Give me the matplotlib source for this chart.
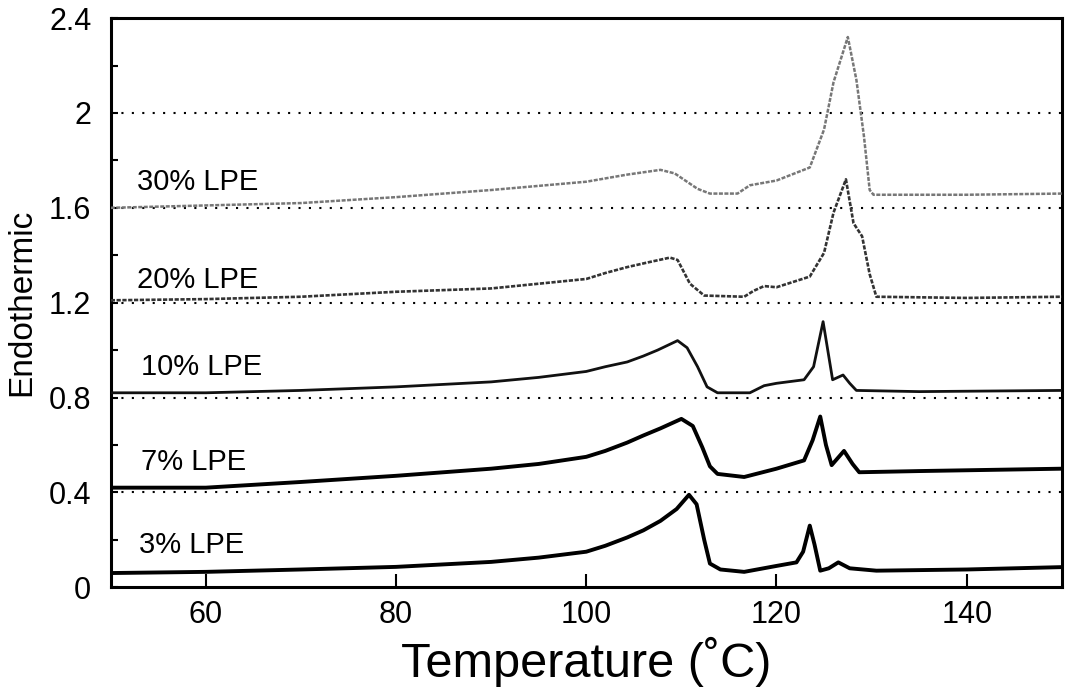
import matplotlib
matplotlib.use("Agg")
import matplotlib.pyplot as plt
from matplotlib.ticker import MultipleLocator

plt.rcParams['font.family'] = ['Liberation Sans', 'DejaVu Sans']

# ---- data ----
t3 = [50, 60, 70, 80, 90, 95, 100, 102, 104.3, 106, 107.8, 109.5, 110.8, 111.6, 112.4, 113.0, 114.1,
      116.6, 120.0, 122.1, 122.8, 123.5, 124.0, 124.6, 125.5, 126.5, 127.7, 130.5, 140, 150]
y3 = [0.06, 0.065, 0.075, 0.086, 0.107, 0.125, 0.15, 0.175, 0.21, 0.24, 0.28, 0.33, 0.39, 0.35, 0.20, 0.10, 0.075,
      0.065, 0.09, 0.105, 0.15, 0.26, 0.18, 0.07, 0.08, 0.105, 0.08, 0.07, 0.075, 0.085]

t7 = [50, 60, 70, 80, 90, 95, 100, 102, 104.3, 106, 107.8, 110.0, 111.2, 112.2, 113.0, 113.8, 116.6,
      120.0, 122.9, 123.8, 124.6, 125.2, 125.8, 127.1, 128.0, 128.7, 135, 150]
y7 = [0.42, 0.42, 0.444, 0.47, 0.50, 0.52, 0.55, 0.575, 0.61, 0.64, 0.67, 0.71, 0.68, 0.59, 0.51, 0.478, 0.465,
      0.50, 0.535, 0.62, 0.72, 0.60, 0.515, 0.575, 0.52, 0.485, 0.49, 0.50]

t10 = [50, 60, 70, 80, 90, 95, 100, 102, 104.3, 106, 107.5, 109.6, 110.6, 111.7, 112.7, 113.8, 117.2,
       118.7, 120, 122.9, 123.9, 124.9, 125.9, 127.0, 127.7, 128.4, 135, 150]
y10 = [0.82, 0.82, 0.83, 0.845, 0.866, 0.885, 0.91, 0.93, 0.95, 0.975, 1.0, 1.04, 1.01, 0.93, 0.845, 0.82, 0.82,
       0.85, 0.86, 0.875, 0.93, 1.12, 0.875, 0.895, 0.86, 0.83, 0.825, 0.83]

t20 = [50, 60, 70, 80, 90, 100, 102, 104.3, 106.5, 108.8, 109.6, 110.9, 112.4, 116.6, 117.6, 118.7, 120,
       123.5, 125, 126, 127.3, 128.1, 129, 129.8, 130.5, 140, 150]
y20 = [1.21, 1.215, 1.225, 1.246, 1.26, 1.30, 1.325, 1.35, 1.37, 1.39, 1.38, 1.28, 1.23, 1.225, 1.25, 1.27, 1.265,
       1.31, 1.41, 1.58, 1.72, 1.535, 1.48, 1.32, 1.225, 1.22, 1.225]

t30 = [50, 60, 70, 80, 90, 100, 104.3, 107.8, 109.3, 111.7, 113, 115.9, 117.2, 120, 123.5,
       125, 126, 127.5, 128.4, 129.2, 129.8, 130.2, 140, 150]
y30 = [1.60, 1.61, 1.62, 1.645, 1.675, 1.71, 1.74, 1.76, 1.745, 1.68, 1.66, 1.66, 1.695, 1.715, 1.77,
       1.93, 2.13, 2.32, 2.14, 1.90, 1.675, 1.655, 1.655, 1.66]

series_labels = ["3% LPE", "7% LPE", "10% LPE", "20% LPE", "30% LPE"]
label_x = [53.0, 53.2, 53.2, 52.8, 52.8]
label_y = [0.18, 0.53, 0.93, 1.295, 1.71]
grid_levels = [0.4, 0.8, 1.2, 1.6, 2.0]
x_ticks = [60, 80, 100, 120, 140]
y_ticks = [0, 0.4, 0.8, 1.2, 1.6, 2.0, 2.4]
y_tick_labels = ["0", "0.4", "0.8", "1.2", "1.6", "2", "2.4"]

# ---- figure ----
fig = plt.figure(figsize=(10.65, 6.95), dpi=100)
ax = fig.add_axes([0.104, 0.155, 0.893, 0.819])

for g in grid_levels:
    ax.axhline(g, color='black', lw=1.5, linestyle=(0, (1, 4)), zorder=1)

ax.plot(t3, y3, color='black', lw=2.8, solid_joinstyle='round', zorder=3)
ax.plot(t7, y7, color='black', lw=2.8, solid_joinstyle='round', zorder=3)
ax.plot(t10, y10, color='#111111', lw=2.0, solid_joinstyle='round', zorder=3)
ax.plot(t20, y20, color='#333333', lw=1.9, linestyle=(0, (1.6, 0.6)), zorder=3)
ax.plot(t30, y30, color='#777777', lw=1.8, linestyle=(0, (1.6, 0.6)), zorder=3)

for lbl, lx, ly in zip(series_labels, label_x, label_y):
    ax.text(lx, ly, lbl, fontsize=21, ha='left', va='center', zorder=4)

ax.set_xlim(50, 150)
ax.set_ylim(0, 2.4)
ax.set_xticks(x_ticks)
ax.set_yticks(y_ticks)
ax.set_yticklabels(y_tick_labels)
ax.yaxis.set_minor_locator(MultipleLocator(0.2))

ax.tick_params(axis='x', which='major', direction='in', length=9.5, width=1.5,
               labelsize=22, pad=9, top=False)
ax.tick_params(axis='y', which='both', direction='in', length=5, width=1.5,
               labelsize=22, pad=14, right=False)

for s in ax.spines.values():
    s.set_linewidth(2.2)

ax.set_xlabel("Temperature (˚C)", fontsize=35, labelpad=5)
ax.set_ylabel("Endothermic", fontsize=24, labelpad=8)

fig.savefig("out.png", dpi=100)
